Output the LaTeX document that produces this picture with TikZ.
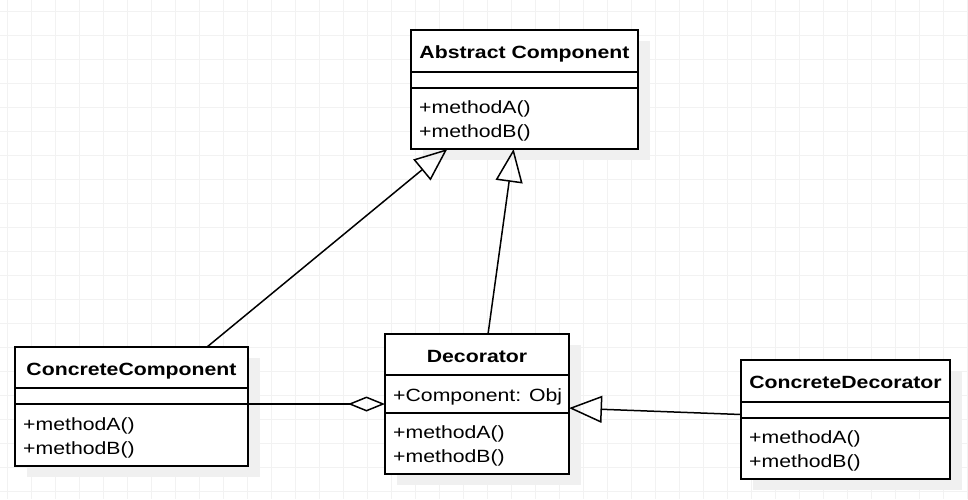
\documentclass[tikz,border=0pt]{standalone}
\usepackage{fontspec}
\setmainfont{Liberation Sans}[FakeStretch=1.2]
\usetikzlibrary{arrows.meta,calc,shadows}

\tikzset{
  classbox/.style={draw, fill=white, line width=1.8pt, inner sep=0pt, outer sep=0pt,
    drop shadow={shadow xshift=11.5pt, shadow yshift=-11pt, fill=gray!12, opacity=1}},
  divider/.style={line width=1.6pt},
  classname/.style={font=\fontsize{17.7}{24}\selectfont\bfseries, anchor=base, inner sep=0pt},
  member/.style={font=\fontsize{17.7}{24}\selectfont, anchor=base west, inner sep=0pt},
  generalize/.style={line width=1.5pt, -{Triangle[open, length=33pt, width=27pt]}},
  aggregate/.style={line width=1.5pt, -{Diamond[open, length=37pt, width=15pt]}}
}

\begin{document}
\begin{tikzpicture}[x=1pt, y=-1pt]
  \useasboundingbox (0,0) rectangle (968,499);
  \fill[white] (0,0) rectangle (968,499);
  % grid
  \foreach \x in {0,...,40} {
    \draw[gray!10, line width=1pt] (7+24*\x,0) -- (7+24*\x,499);
  }
  \foreach \y in {0,...,20} {
    \draw[gray!10, line width=1pt] (0,11+24*\y) -- (968,11+24*\y);
  }

  % Abstract Component
  \node[classbox, minimum width=227pt, minimum height=119pt] (abs) at (524.5,89.5) {};
  \draw[divider] ($(abs.north west)+(0,42)$) -- ($(abs.north east)+(0,42)$);
  \draw[divider] ($(abs.north west)+(0,58)$) -- ($(abs.north east)+(0,58)$);
  \node[classname] (abs-name) at ($(abs.north)+(0,28)$) {Abstract Component};
  \node[member] (abs-m1) at ($(abs.north west)+(8,83)$) {+methodA()};
  \node[member] (abs-m2) at ($(abs.north west)+(8,107)$) {+methodB()};

  % ConcreteComponent
  \node[classbox, minimum width=233pt, minimum height=119pt] (conc) at (131.5,406.5) {};
  \draw[divider] ($(conc.north west)+(0,41)$) -- ($(conc.north east)+(0,41)$);
  \draw[divider] ($(conc.north west)+(0,57)$) -- ($(conc.north east)+(0,57)$);
  \node[classname] (conc-name) at ($(conc.north)+(0,28)$) {ConcreteComponent};
  \node[member] (conc-m1) at ($(conc.north west)+(8,83)$) {+methodA()};
  \node[member] (conc-m2) at ($(conc.north west)+(8,107)$) {+methodB()};

  % Decorator
  \node[classbox, minimum width=184pt, minimum height=140pt] (deco) at (477,404) {};
  \draw[divider] ($(deco.north west)+(0,41)$) -- ($(deco.north east)+(0,41)$);
  \draw[divider] ($(deco.north west)+(0,79)$) -- ($(deco.north east)+(0,79)$);
  \node[classname] (deco-name) at ($(deco.north)+(0,28)$) {Decorator};
  \node[member] (deco-attr) at ($(deco.north west)+(8,67)$) {+Component: Obj};
  \node[member] (deco-m1) at ($(deco.north west)+(8,104)$) {+methodA()};
  \node[member] (deco-m2) at ($(deco.north west)+(8,128)$) {+methodB()};

  % ConcreteDecorator
  \node[classbox, minimum width=209pt, minimum height=119pt] (cdeco) at (845.5,419.5) {};
  \draw[divider] ($(cdeco.north west)+(0,42)$) -- ($(cdeco.north east)+(0,42)$);
  \draw[divider] ($(cdeco.north west)+(0,58)$) -- ($(cdeco.north east)+(0,58)$);
  \node[classname] (cdeco-name) at ($(cdeco.north)+(0,28)$) {ConcreteDecorator};
  \node[member] (cdeco-m1) at ($(cdeco.north west)+(8,83)$) {+methodA()};
  \node[member] (cdeco-m2) at ($(cdeco.north west)+(8,107)$) {+methodB()};

  % relations
  \draw[generalize] ($(conc.north west)!0.824!(conc.north east)$)
    -- ($(abs.south west)!0.160!(abs.south east)$);
  \draw[generalize] ($(deco.north west)!0.56!(deco.north east)$)
    -- ($(abs.south west)!0.452!(abs.south east)$);
  \draw[aggregate] (deco.west -| conc.east) -- (deco.west);
  \draw[generalize] ($(cdeco.north west)!0.458!(cdeco.south west)$)
    -- ($(deco.north east)!0.529!(deco.south east)$);
\end{tikzpicture}
\end{document}
